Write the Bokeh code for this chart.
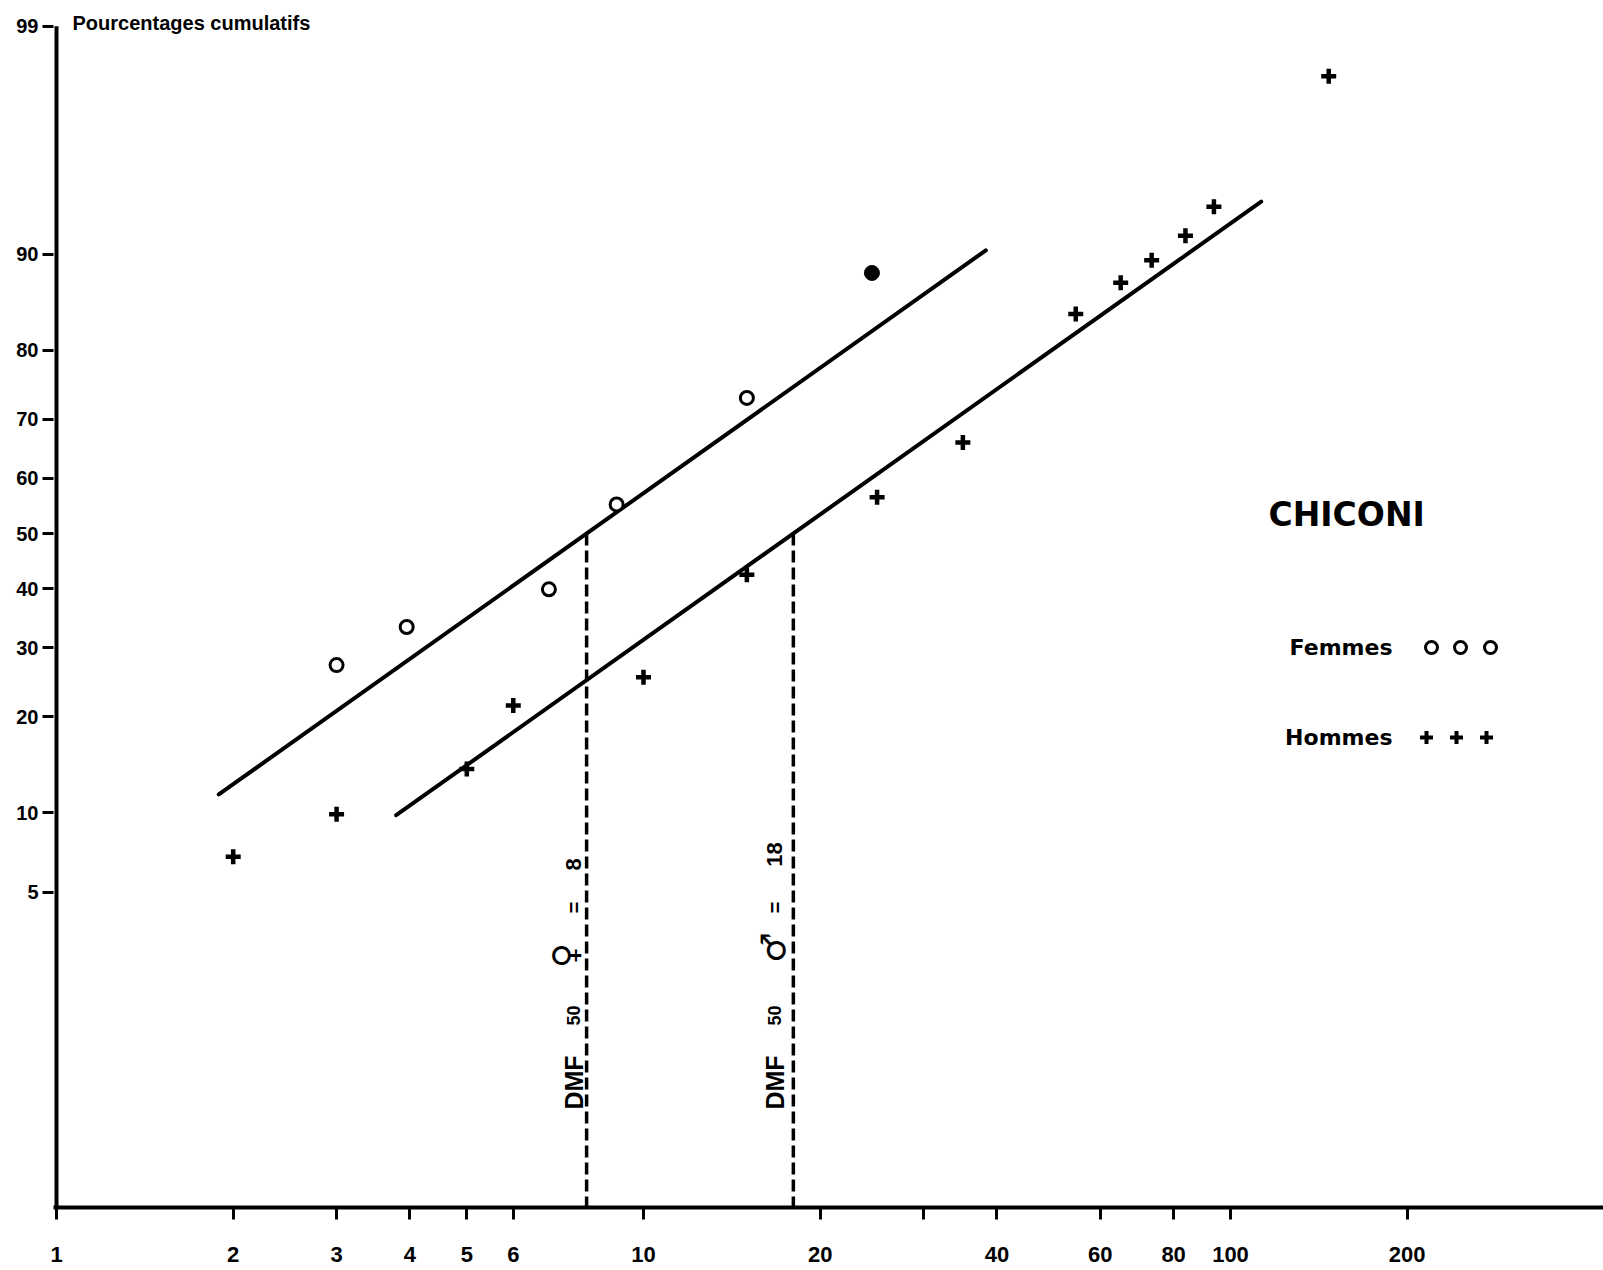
from math import log10, pi
from statistics import NormalDist

from bokeh.core.properties import value
from bokeh.embed import file_html
from bokeh.models import CustomJSTickFormatter, FixedTicker, Range1d
from bokeh.plotting import figure
from bokeh.resources import INLINE

# --- data -------------------------------------------------------------------
# DMF index (log scale) against cumulative percentage, women and men
femmes_dmf = [3, 3.95, 6.9, 9, 15, 24.5]
femmes_pct = [27.3, 33.4, 39.9, 55.3, 73.3, 88.4]
femmes_plein = [False, False, False, False, False, True]

hommes_dmf = [2, 3, 5, 6, 10, 15, 25, 35, 54.5, 65, 73.4, 83.8, 93.7, 147]
hommes_pct = [6.9, 9.9, 14.0, 21.5, 25.5, 42.5, 56.6, 66.2, 84.3, 87.5,
              89.5, 91.4, 93.3, 98.2]

# fitted log-normal lines: DMF 50 (median) and slope in probits per decade
femmes_dmf50 = 8
hommes_dmf50 = 18
pente = 1.91
femmes_etendue = [1.89, 38.3]
hommes_etendue = [3.79, 112.8]

x_ticks = [1, 2, 3, 4, 5, 6, 10, 20, 30, 40, 60, 80, 100, 200]
x_ticks_sans_texte = [30]
y_ticks_pct = [5, 10, 20, 30, 40, 50, 60, 70, 80, 90, 99]

# --- scales -------------------------------------------------------------------
W, H = 1603, 1270
FRAME_LEFT, FRAME_BOTTOM = 53, 1207
X1_PX, DEC_PX = 56, 587       # pixel of DMF = 1, pixels per decade
Y50_PX, ZU_PX = 533, 218      # pixel of 50 %, pixels per probit unit


def probit(pct):
    return NormalDist().inv_cdf(pct / 100.0)


def dx(px):
    """screen x -> data x (log axis)"""
    return 10 ** ((px - X1_PX) / DEC_PX)


def dz(py):
    """screen y -> probit value"""
    return (Y50_PX - py) / ZU_PX


def droite(median, xs):
    return [pente * (log10(x) - log10(median)) for x in xs]


y_bas = dz(FRAME_BOTTOM)

p = figure(width=W, height=H, x_axis_type="log",
           x_range=Range1d(dx(FRAME_LEFT), dx(W)),
           y_range=Range1d(y_bas, dz(0)),
           output_backend="svg", toolbar_location=None,
           min_border_left=FRAME_LEFT, min_border_right=0,
           min_border_top=0, min_border_bottom=H - FRAME_BOTTOM)
p.grid.visible = False
p.outline_line_color = None
p.background_fill_color = "white"
p.border_fill_color = "white"

LAB_FONT = "Liberation Sans"
SYM_FONT = "DejaVu Sans"

# x axis (log)
xa = p.xaxis[0]
xa.ticker = FixedTicker(ticks=x_ticks)
xa.formatter = CustomJSTickFormatter(
    args=dict(vides=x_ticks_sans_texte),
    code="return vides.includes(tick) ? '' : String(Math.round(tick));")
xa.axis_line_width = 4
xa.axis_line_color = "black"
xa.major_tick_line_width = 3
xa.major_tick_line_color = "black"
xa.major_tick_out = 12
xa.major_tick_in = 0
xa.minor_tick_line_color = None
xa.major_label_text_font = LAB_FONT
xa.major_label_text_font_style = "bold"
xa.major_label_text_font_size = "22px"
xa.major_label_text_color = "black"
xa.major_label_standoff = 27

# y axis (probability scale)
ya = p.yaxis[0]
ya.ticker = FixedTicker(ticks=[probit(v) for v in y_ticks_pct])
ya.formatter = CustomJSTickFormatter(code="""
    const x = Math.abs(tick) / Math.SQRT2;
    const t = 1 / (1 + 0.3275911 * x);
    let e = 1 - (((((1.061405429 * t - 1.453152027) * t) + 1.421413741) * t
                 - 0.284496736) * t + 0.254829592) * t * Math.exp(-x * x);
    if (tick < 0) e = -e;
    return String(Math.round(50 * (1 + e)));
""")
ya.axis_line_color = None
ya.major_tick_line_width = 3
ya.major_tick_line_color = "black"
ya.major_tick_out = 11
ya.major_tick_in = 0
ya.minor_tick_line_color = None
ya.major_label_text_font = LAB_FONT
ya.major_label_text_font_style = "bold"
ya.major_label_text_font_size = "20px"
ya.major_label_text_color = "black"
ya.major_label_standoff = 4

# vertical axis line, stopping at the 99 % tick
p.segment(x0=[1], y0=[y_bas], x1=[1], y1=[probit(99)],
          line_width=4, line_color="black")

# fitted lines
p.line(femmes_etendue, droite(femmes_dmf50, femmes_etendue),
       line_width=4, line_color="black", line_cap="round")
p.line(hommes_etendue, droite(hommes_dmf50, hommes_etendue),
       line_width=4, line_color="black", line_cap="round")

# DMF 50 markers
for med in (femmes_dmf50, hommes_dmf50):
    p.segment(x0=[med], y0=[droite(med, [med])[0]], x1=[med], y1=[y_bas],
              line_width=3.5, line_color="black", line_dash="12 5")

# points
fz = [probit(v) for v in femmes_pct]
p.scatter([x for x, f in zip(femmes_dmf, femmes_plein) if not f],
          [z for z, f in zip(fz, femmes_plein) if not f],
          marker="circle", size=13, line_width=3,
          line_color="black", fill_color="white")
p.scatter([x for x, f in zip(femmes_dmf, femmes_plein) if f],
          [z for z, f in zip(fz, femmes_plein) if f],
          marker="circle", size=15, line_width=1,
          line_color="black", fill_color="black")
p.scatter(hommes_dmf, [probit(v) for v in hommes_pct],
          marker="cross", size=15, line_width=4.5, line_color="black")


def texte(px, py, s, size, font=LAB_FONT, align="left", baseline="middle",
          angle=0.0, style="bold"):
    p.text(x=[dx(px)], y=[dz(py)], text=[s], angle=angle,
           text_font=value(font), text_font_style=style,
           text_font_size=value(f"{size}px"), text_align=align,
           text_baseline=baseline, text_color="black")


# axis title
texte(72, 22, "Pourcentages  cumulatifs", 20)

# DMF 50 annotations, written upwards along the dashed lines
for xb, sym, dxs, val, sym_y, val_y in ((573, "\u2640", -9, "8", 955, 864),
                                        (774, "\u2642", -2, "18", 947, 854)):
    texte(xb, 1082, "DMF", 25, align="center", baseline="alphabetic",
          angle=pi / 2)
    texte(xb, 1015, "50", 18, align="center", baseline="alphabetic",
          angle=pi / 2)
    texte(xb + dxs, sym_y, sym, 34, font=SYM_FONT, align="center",
          baseline="alphabetic", angle=pi / 2, style="normal")
    texte(xb, 907, "=", 20, align="center", baseline="alphabetic",
          angle=pi / 2)
    texte(xb, val_y, val, 22, align="center", baseline="alphabetic",
          angle=pi / 2)

# site name and key
texte(1268, 514, "CHICONI", 33, font=SYM_FONT)
texte(1392, 647, "Femmes", 22, font=SYM_FONT, align="right")
texte(1392, 737, "Hommes", 22, font=SYM_FONT, align="right")
p.scatter([dx(v) for v in (1431, 1460, 1490)], [dz(647)] * 3,
          marker="circle", size=12, line_width=3,
          line_color="black", fill_color="white")
p.scatter([dx(v) for v in (1426, 1456, 1486)], [dz(737)] * 3,
          marker="cross", size=13, line_width=4, line_color="black")

open("out.html", "w").write(file_html(p, INLINE))
